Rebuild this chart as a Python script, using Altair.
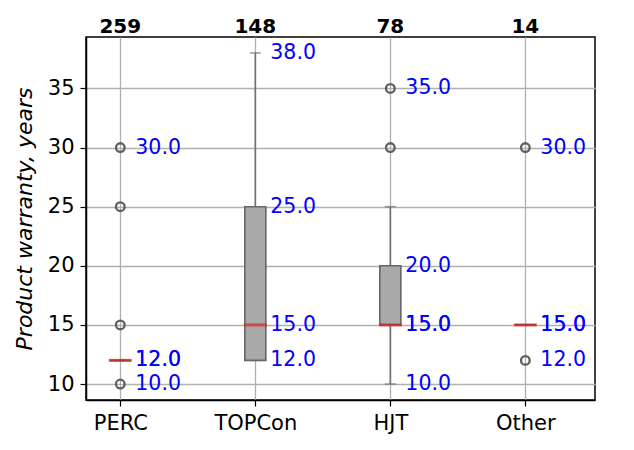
import altair as alt
import pandas as pd

# ---- data ----
categories = ["PERC", "TOPCon", "HJT", "Other"]
counts = [259, 148, 78, 14]
q1 = [12, 12, 15, 15]
medians = [12, 15, 15, 15]
q3 = [12, 25, 20, 15]
whisker_low = [12, 12, 10, 15]
whisker_high = [12, 38, 25, 15]

outlier_cat = ["PERC", "PERC", "PERC", "PERC", "HJT", "HJT", "Other", "Other"]
outlier_val = [10, 15, 25, 30, 30, 35, 12, 30]

label_cat = ["PERC", "PERC", "PERC", "PERC",
             "TOPCon", "TOPCon", "TOPCon", "TOPCon",
             "HJT", "HJT", "HJT", "HJT", "HJT",
             "Other", "Other", "Other", "Other"]
label_val = [30, 12, 12, 10,
             38, 25, 15, 12,
             35, 20, 15, 15, 10,
             30, 15, 15, 12]

# ---- tables ----
summary = pd.DataFrame({
    "cat": categories, "n": counts, "q1": q1, "med": medians, "q3": q3,
    "lo": whisker_low, "hi": whisker_high,
})
outliers = pd.DataFrame({"cat": outlier_cat, "v": outlier_val})
labels = pd.DataFrame({"cat": label_cat, "v": label_val})

FONT = "DejaVu Sans"

xenc = alt.X(
    "cat:N", sort=categories,
    scale=alt.Scale(type="point", domain=categories, padding=0.385, align=0.33),
    axis=alt.Axis(title=None, labelAngle=0, grid=True),
)
yscale = alt.Scale(domain=[8.65, 39.35], nice=False, zero=False)
yaxis = alt.Axis(
    values=[10, 15, 20, 25, 30, 35], grid=True,
    title="Product warranty, years", titleFontStyle="italic", titleFontWeight="normal",
    titleFontSize=22, titleFont=FONT, titleColor="black",
    titleAngle=270, titleX=-55, titleY=181.5, titleAlign="center", titleBaseline="alphabetic",
)

base = alt.Chart(summary)

whisk = base.mark_rule(color="#707070", strokeWidth=1.6).encode(
    x=xenc, y=alt.Y("lo:Q", scale=yscale, axis=yaxis), y2="hi:Q"
)
cap_lo = base.mark_tick(color="#707070", size=11, thickness=1.6).encode(
    x=xenc, y=alt.Y("lo:Q", scale=yscale, axis=yaxis)
)
cap_hi = base.mark_tick(color="#707070", size=11, thickness=1.6).encode(
    x=xenc, y=alt.Y("hi:Q", scale=yscale, axis=yaxis)
)
box = base.mark_bar(size=21, fill="#a9a9a9", stroke="#666666", strokeWidth=1.6).encode(
    x=xenc, y=alt.Y("q1:Q", scale=yscale, axis=yaxis), y2="q3:Q"
)
med = base.mark_tick(color="#e02020", size=23, thickness=3).encode(
    x=xenc, y=alt.Y("med:Q", scale=yscale, axis=yaxis)
)
pts = alt.Chart(outliers).mark_point(
    shape="circle", filled=False, size=75, stroke="#5f5f5f", strokeWidth=2.3, opacity=1
).encode(x=xenc, y=alt.Y("v:Q", scale=yscale, axis=yaxis))

txt = alt.Chart(labels).mark_text(
    align="left", baseline="middle", dx=15, fontSize=20.5, font=FONT, color="#0000ff"
).encode(
    x=xenc, y=alt.Y("v:Q", scale=yscale, axis=yaxis), text=alt.Text("v:Q", format=".1f")
)
cnt = base.mark_text(
    baseline="alphabetic", fontSize=20, font=FONT, fontWeight="bold", color="black"
).encode(x=xenc, y=alt.value(-4), text="n:Q")

chart = alt.layer(whisk, cap_lo, cap_hi, box, med, pts, txt, cnt).properties(
    width=509, height=363,
    autosize=alt.AutoSizeParams(type="none"),
    padding={"left": 78, "top": 29, "right": 31, "bottom": 42},
).configure_view(
    stroke="black", strokeWidth=1.5
).configure_axis(
    domainColor="black", domainWidth=1.5, tickColor="black", tickSize=6, tickWidth=1.2,
    labelFont=FONT, labelFontSize=21, labelColor="black", labelPadding=6,
    gridColor="#b0b0b0", gridWidth=1.3,
)

chart.save("out.html", embed_options={"renderer": "svg", "actions": False})
